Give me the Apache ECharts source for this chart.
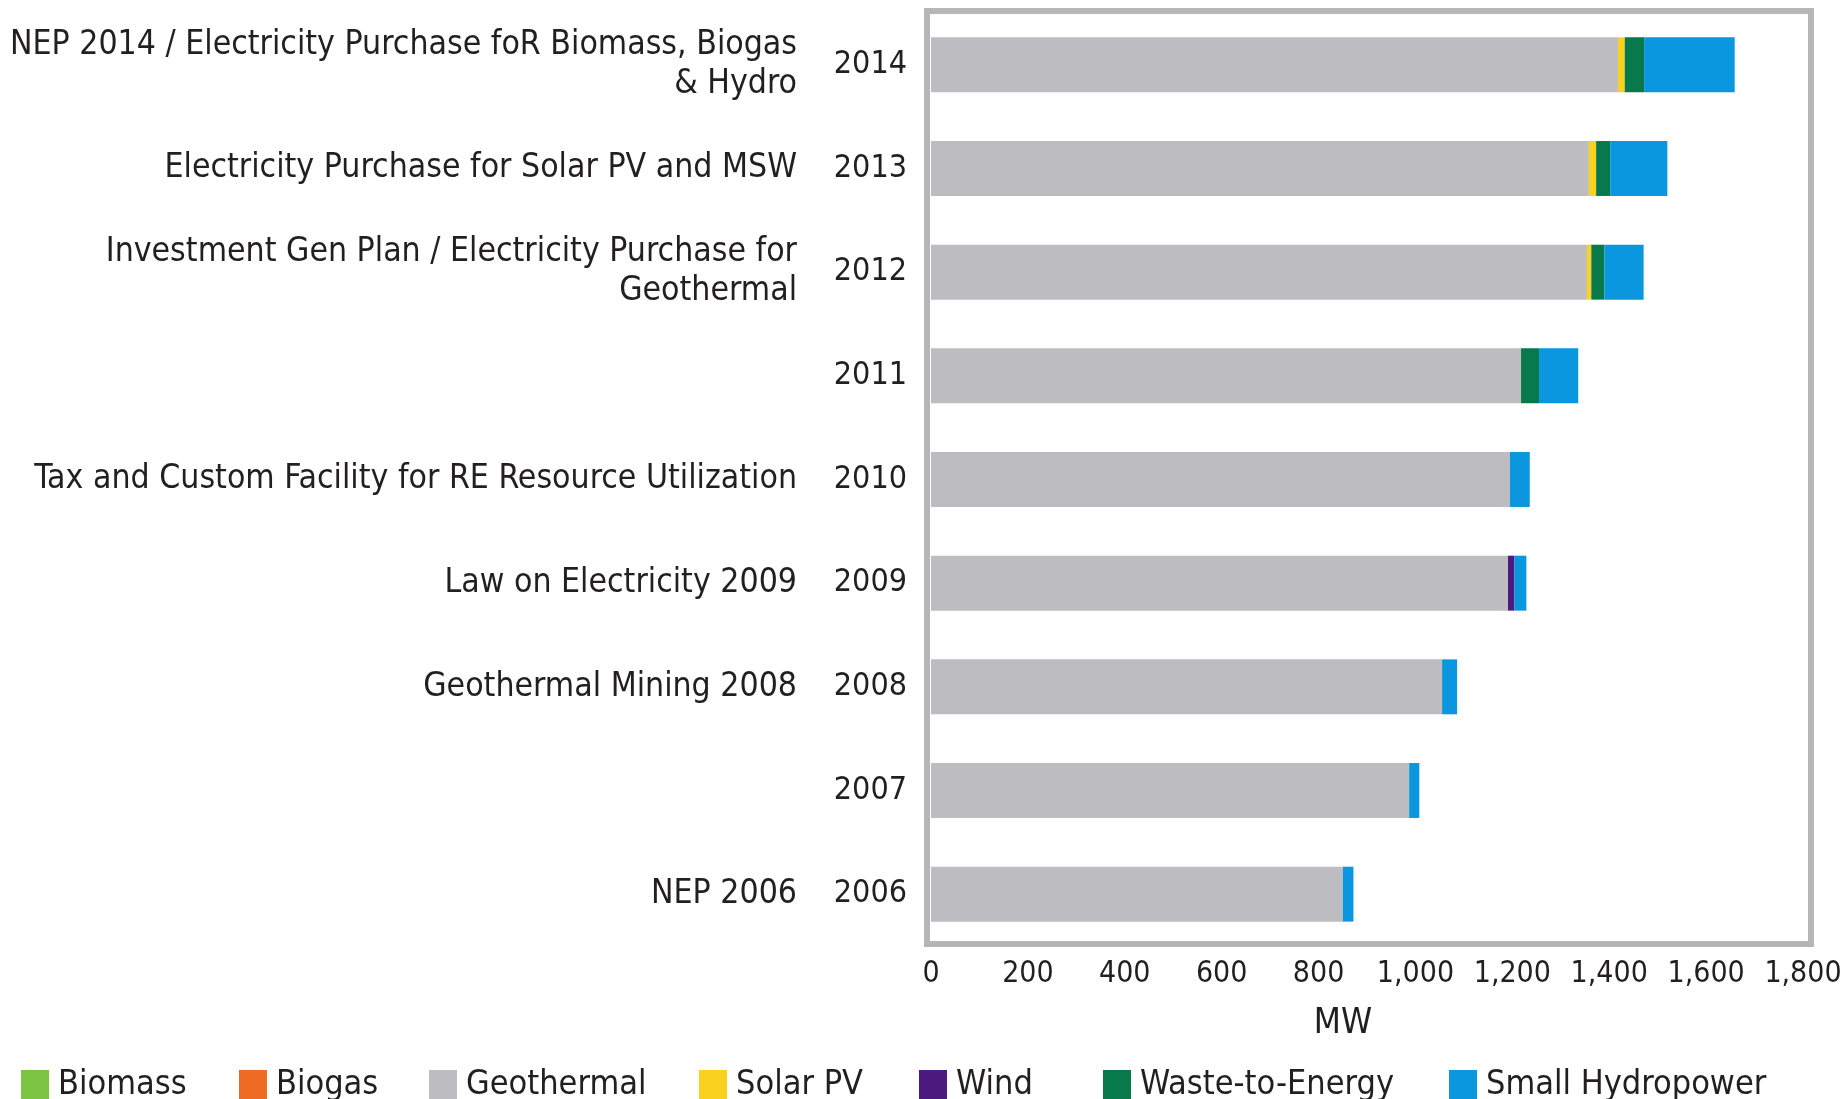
<!DOCTYPE html>
<html>
<head>
<meta charset="utf-8">
<script src="https://cdn.jsdelivr.net/npm/echarts@6/dist/echarts.min.js"></script>
<style>
  html, body { margin: 0; padding: 0; background: #fff; }
  #chart { width: 1847px; height: 1099px; }
</style>
</head>
<body>
<div id="chart"></div>
<script>
// years bottom -> top
const years = ['2006', '2007', '2008', '2009', '2010', '2011', '2012', '2013', '2014']
const policies = [
  'NEP 2006',
  '',
  'Geothermal Mining 2008',
  'Law on Electricity 2009',
  'Tax and Custom Facility for RE Resource Utilization',
  '',
  'Investment Gen Plan / Electricity Purchase for\nGeothermal',
  'Electricity Purchase for Solar PV and MSW',
  'NEP 2014 / Electricity Purchase foR Biomass, Biogas\n& Hydro'
]

// MW
const biomass = [0, 0, 0, 0, 0, 0, 0, 0, 0]
const biogas = [0, 0, 0, 0, 0, 0, 0, 0, 0]
const geothermal = [850, 987, 1055, 1191, 1195, 1218, 1354, 1358, 1418]
const solarPV = [0, 0, 0, 0, 0, 0, 9, 15, 14]
const wind = [0, 0, 0, 13, 0, 0, 0, 0, 0]
const wasteToEnergy = [0, 0, 0, 0, 0, 37, 27, 29, 40]
const smallHydro = [22, 21, 31, 25, 41, 81, 81, 118, 187]

const xTicks = [0, 200, 400, 600, 800, 1000, 1200, 1400, 1600, 1800]

const seriesDefs = [
  { name: 'Biomass', data: biomass, color: '#7cc243' },
  { name: 'Biogas', data: biogas, color: '#ef6b24' },
  { name: 'Geothermal', data: geothermal, color: '#bdbcc1' },
  { name: 'Solar PV', data: solarPV, color: '#f9d21f' },
  { name: 'Wind', data: wind, color: '#4d1a80' },
  { name: 'Waste-to-Energy', data: wasteToEnergy, color: '#08794a' },
  { name: 'Small Hydropower', data: smallHydro, color: '#0b97e0' }
]
const legendLeft = [16, 234, 424, 694, 914, 1098, 1444]

const FONT = "'Liberation Sans Narrow', 'DejaVu Sans Condensed', 'Open Sans', sans-serif"
const TEXT = '#231f20'

const chart = echarts.init(document.getElementById('chart'))
chart.setOption({
  animation: false,
  textStyle: { fontFamily: FONT },
  grid: { left: 931, right: 44, top: 13, bottom: 153, containLabel: false, outerBoundsMode: 'none' },
  xAxis: {
    type: 'value', min: xTicks[0], max: xTicks[xTicks.length - 1], interval: 200,
    axisLine: { show: false }, axisTick: { show: false }, splitLine: { show: false },
    axisLabel: { fontSize: 30, color: TEXT, margin: 13, fontFamily: FONT, formatter: v => v.toLocaleString('en-US') },
    name: 'MW', nameLocation: 'middle', nameGap: 60,
    nameTextStyle: { fontSize: 35, color: TEXT, fontFamily: FONT, padding: [0, 48, 0, 0] }
  },
  yAxis: [
    {
      type: 'category', data: years,
      axisLine: { show: false }, axisTick: { show: false },
      axisLabel: { fontSize: 32, color: TEXT, margin: 24, fontFamily: FONT }
    },
    {
      type: 'category', data: years, position: 'left',
      axisLine: { show: false }, axisTick: { show: false },
      axisLabel: {
        fontSize: 33.5, lineHeight: 39, color: TEXT, margin: 134, fontFamily: FONT, align: 'right',
        formatter: (v, i) => policies[i]
      }
    }
  ],
  legend: seriesDefs.map((s, i) => ({
    data: [s.name], left: legendLeft[i], top: 1063,
    icon: 'rect', itemWidth: 28, itemHeight: 30, itemGap: 0,
    textStyle: { fontSize: 34, color: TEXT, fontFamily: FONT, padding: [0, 0, 0, 4] },
    selectedMode: false
  })),
  graphic: [{
    type: 'rect', z: 10, silent: true,
    shape: { x: 927, y: 11, width: 884, height: 933 },
    style: { fill: null, stroke: '#b6b6b8', lineWidth: 6 }
  }],
  series: seriesDefs.map(s => ({
    name: s.name, type: 'bar', stack: 'total', yAxisIndex: 0,
    barWidth: '53%', data: s.data,
    itemStyle: { color: s.color }
  }))
})
</script>
</body>
</html>
